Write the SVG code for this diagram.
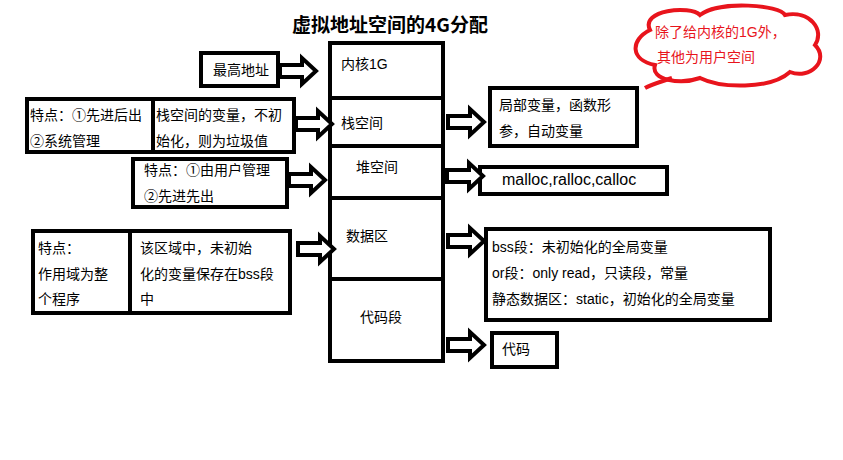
<svg xmlns="http://www.w3.org/2000/svg" width="843" height="460" viewBox="0 0 843 460">
<style>
.b{fill:#fff;stroke:#000;stroke-width:4}
.t{font-family:"Liberation Sans","Noto Sans CJK SC",sans-serif;font-size:14px;fill:#000}
.a{fill:#fff;stroke:#000;stroke-width:4;stroke-linejoin:miter}
</style>
<defs><path id="ar" d="M0,-6 H22 V-13 L36,0 L22,13 V6 H0 Z"/></defs>
<rect width="843" height="460" fill="#fff"/>
<text x="390" y="32" text-anchor="middle" font-family="'Noto Sans CJK SC',sans-serif" font-size="19" font-weight="bold">虚拟地址空间的4G分配</text>
<g id="cloud">
<path d="M650,30 C640,10 690,5 700,15 C720,0 780,5 785,15 C810,10 825,30 815,45 C830,60 810,80 790,72 C770,90 720,88 700,78 C680,85 650,80 655,65 C630,60 630,40 650,30 Z" fill="#fff" stroke="#e8141c" stroke-width="4"/>
<path d="M672,78 C660,82 650,85 645,88" fill="none" stroke="#e8141c" stroke-width="4"/>
<text x="655" y="37" class="t" style="fill:#e8141c">除了给内核的1G外，</text>
<text x="657" y="62" class="t" style="fill:#e8141c">其他为用户空间</text>
</g>
<g id="memory">
<rect class="b" x="330" y="43" width="113" height="318"/>
<path d="M330,98 H443 M330,146 H443 M330,198 H443 M330,279 H443" stroke="#000" stroke-width="4"/>
<text class="t" x="341" y="69">内核1G</text>
<text class="t" x="341" y="128">栈空间</text>
<text class="t" x="356" y="172">堆空间</text>
<text class="t" x="346" y="241">数据区</text>
<text class="t" x="360" y="322">代码段</text>
</g>
<g id="top"><rect class="b" x="201" y="53" width="77" height="33"/><text class="t" x="213" y="75">最高地址</text></g>
<g id="stack-note"><rect class="b" x="27" y="99" width="267" height="53"/><path d="M153,99 V152" stroke="#000" stroke-width="4"/>
<text class="t" x="30" y="120">特点：①先进后出</text><text class="t" x="30" y="146">②系统管理</text>
<text class="t" x="156" y="120">栈空间的变量，不初</text><text class="t" x="156" y="146">始化，则为垃圾值</text></g>
<g id="heap-note"><rect class="b" x="133" y="159" width="154" height="48"/>
<text class="t" x="144" y="175">特点：①由用户管理</text><text class="t" x="144" y="201">②先进先出</text></g>
<g id="data-note"><rect class="b" x="33" y="231" width="257" height="82"/><path d="M130,231 V313" stroke="#000" stroke-width="4"/>
<text class="t" x="38" y="253">特点：</text><text class="t" x="38" y="279">作用域为整</text><text class="t" x="38" y="304">个程序</text>
<text class="t" x="140" y="253">该区域中，未初始</text><text class="t" x="140" y="279">化的变量保存在bss段</text><text class="t" x="140" y="304">中</text></g>
<g id="stack-r"><rect class="b" x="490" y="88" width="147" height="58"/><text class="t" x="499" y="110">局部变量，函数形</text><text class="t" x="499" y="136">参，自动变量</text></g>
<g id="heap-r"><rect class="b" x="480" y="167" width="187" height="27"/><text class="t" x="502" y="185" style="font-size:16px">malloc,ralloc,calloc</text></g>
<g id="data-r"><rect class="b" x="486" y="229" width="284" height="91"/>
<text class="t" x="492" y="252">bss段：未初始化的全局变量</text><text class="t" x="492" y="278">or段：only read，只读段，常量</text><text class="t" x="492" y="304">静态数据区：static，初始化的全局变量</text></g>
<g id="code-r"><rect class="b" x="492" y="333" width="65" height="34"/><text class="t" x="502" y="354">代码</text></g>
<g id="connectors">
<use href="#ar" class="a" x="280" y="71"/>
<use href="#ar" class="a" x="296" y="124"/>
<use href="#ar" class="a" x="289" y="180"/>
<use href="#ar" class="a" x="298" y="249"/>
<use href="#ar" class="a" x="448" y="122"/>
<use href="#ar" class="a" x="447" y="176"/>
<use href="#ar" class="a" x="448" y="241"/>
<use href="#ar" class="a" x="448" y="345"/>
</g>
</svg>
